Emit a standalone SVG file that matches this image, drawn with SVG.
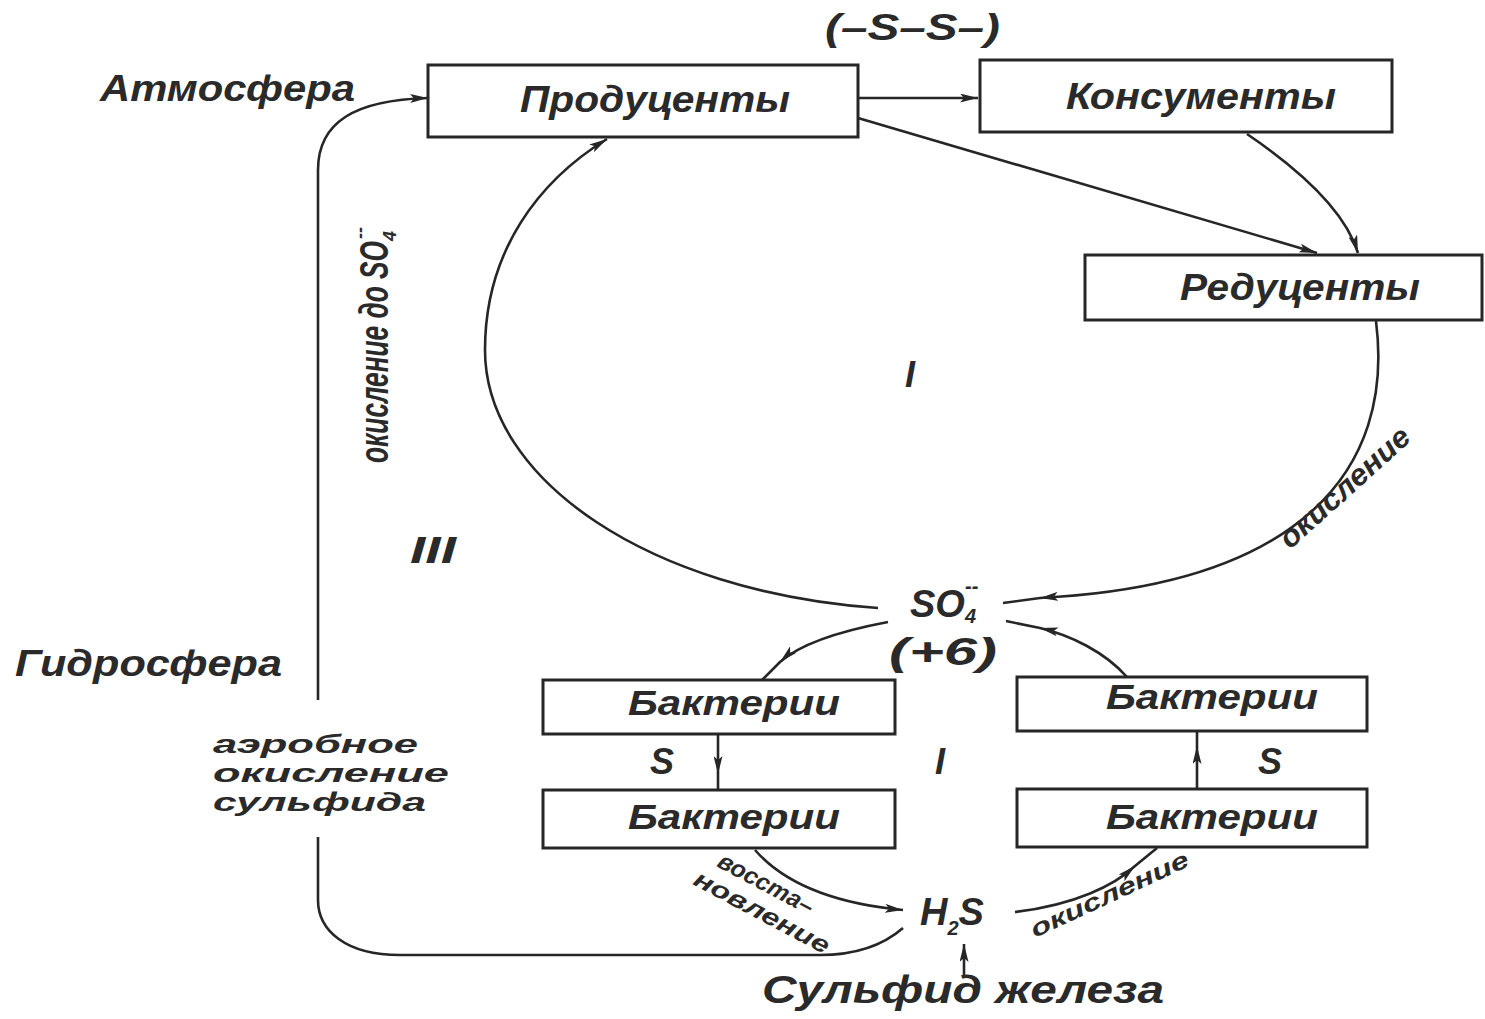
<svg xmlns="http://www.w3.org/2000/svg" width="1485" height="1019" viewBox="0 0 1485 1019">
<defs>
<marker id="ah" viewBox="0 0 18 9" refX="18" refY="4.5" markerWidth="18" markerHeight="9" markerUnits="userSpaceOnUse" orient="auto">
<path d="M0,0 L18,4.5 L0,9 L4,4.5 z" fill="#262626"/>
</marker>
<style>
.box{fill:#fff;stroke:#262626;stroke-width:3}
.t{font-family:"Liberation Sans","DejaVu Sans",sans-serif;font-style:italic;font-weight:bold;fill:#2a2a2a}
.c{fill:none;stroke:#262626;stroke-width:2.6}
.ae{marker-end:url(#ah)}
.am{marker-mid:url(#ah)}
</style>
</defs>
<rect width="1485" height="1019" fill="#fff"/>

<g id="connectors">
<path class="c ae" d="M858 98 L978 98"/>
<path class="c ae" d="M858 118 L1317 253"/>
<path class="c ae" d="M1247 134 C1300 170 1345 210 1358 253"/>
<path class="c am" d="M1376 321 C1395 470 1300 585 1040 598 L1003 603"/>
<path class="c ae" d="M878 608 C650 592 485 480 485 350 C485 250 540 180 607 139"/>
<path class="c am" d="M888 622 C835 632 798 646 780 662 L762 680"/>
<path class="c am" d="M1127 677 C1105 652 1070 635 1040 628 L1006 621"/>
<path class="c am" d="M718 735 L718 774 L718 789"/>
<path class="c am" d="M1197 788 L1197 746 L1197 731"/>
<path class="c ae" d="M755 850 C790 890 850 905 903 910"/>
<path class="c am" d="M1015 912 C1075 905 1115 885 1135 866 L1157 848"/>
<path class="c ae" d="M964 975 L964 944"/>
<path class="c" d="M903 928 C880 948 850 955 820 955 L400 955 C345 955 318 930 318 900 L318 837"/>
<path class="c ae" d="M318 700 L318 170 C318 122 355 100 428 98"/>
</g>

<g id="producers"><rect class="box" x="428" y="65" width="430" height="72"/><text class="t" x="520" y="112" font-size="37" textLength="270" lengthAdjust="spacingAndGlyphs">Продуценты</text></g>
<g id="consumers"><rect class="box" x="980" y="60" width="412" height="72"/><text class="t" x="1066" y="109" font-size="37" textLength="270" lengthAdjust="spacingAndGlyphs">Консументы</text></g>
<g id="reducers"><rect class="box" x="1085" y="255" width="397" height="65"/><text class="t" x="1180" y="300" font-size="37" textLength="240" lengthAdjust="spacingAndGlyphs">Редуценты</text></g>
<g id="bact-tl"><rect class="box" x="543" y="680" width="352" height="54"/><text class="t" x="628" y="715" font-size="35" textLength="212" lengthAdjust="spacingAndGlyphs">Бактерии</text></g>
<g id="bact-tr"><rect class="box" x="1017" y="677" width="350" height="54"/><text class="t" x="1106" y="709" font-size="35" textLength="212" lengthAdjust="spacingAndGlyphs">Бактерии</text></g>
<g id="bact-bl"><rect class="box" x="543" y="790" width="352" height="58"/><text class="t" x="628" y="829" font-size="35" textLength="212" lengthAdjust="spacingAndGlyphs">Бактерии</text></g>
<g id="bact-br"><rect class="box" x="1017" y="789" width="350" height="58"/><text class="t" x="1106" y="829" font-size="35" textLength="212" lengthAdjust="spacingAndGlyphs">Бактерии</text></g>

<g id="so4"><text class="t" x="910" y="617" font-size="38">SO<tspan font-size="20" dy="6">4</tspan><tspan font-size="20" dx="-11" dy="-30">--</tspan></text>
<text class="t" x="889" y="665" font-size="38" textLength="108" lengthAdjust="spacingAndGlyphs">(+6)</text></g>
<g id="h2s"><text class="t" x="920" y="925" font-size="38">H<tspan font-size="20" dy="10">2</tspan><tspan dy="-10">S</tspan></text></g>
<g id="sulfide"><text class="t" x="762" y="1003" font-size="38" textLength="402" lengthAdjust="spacingAndGlyphs">Сульфид железа</text></g>

<g id="labels">
<text class="t" x="825" y="40" font-size="36" textLength="175" lengthAdjust="spacingAndGlyphs">(–S–S–)</text>
<text class="t" x="100" y="101" font-size="36" textLength="255" lengthAdjust="spacingAndGlyphs">Атмосфера</text>
<text class="t" x="15" y="676" font-size="36" textLength="267" lengthAdjust="spacingAndGlyphs">Гидросфера</text>
<text class="t" x="213" y="753" font-size="25" textLength="205" lengthAdjust="spacingAndGlyphs">аэробное</text>
<text class="t" x="213" y="782" font-size="25" textLength="236" lengthAdjust="spacingAndGlyphs">окисление</text>
<text class="t" x="213" y="811" font-size="25" textLength="213" lengthAdjust="spacingAndGlyphs">сульфида</text>
<text class="t" transform="translate(388,463) rotate(-90)" font-size="40"><tspan textLength="222" lengthAdjust="spacingAndGlyphs">окисление до SO</tspan><tspan font-size="18" dy="8">4</tspan><tspan font-size="18" dx="-8" dy="-30">--</tspan></text>
<text class="t" x="905" y="387" font-size="36">I</text>
<text class="t" x="410" y="563" font-size="36" textLength="46" lengthAdjust="spacingAndGlyphs">III</text>
<text class="t" x="935" y="774" font-size="36">I</text>
<text class="t" x="650" y="774" font-size="36">S</text>
<text class="t" x="1258" y="774" font-size="36">S</text>
<text class="t" transform="translate(1290,550) rotate(-42)" font-size="30" textLength="165" lengthAdjust="spacingAndGlyphs">окисление</text>
<text class="t" transform="translate(716,866) rotate(28)" font-size="24" textLength="105" lengthAdjust="spacingAndGlyphs">восста–</text>
<text class="t" transform="translate(692,884) rotate(28)" font-size="24" textLength="150" lengthAdjust="spacingAndGlyphs">новление</text>
<text class="t" transform="translate(1035,938) rotate(-25)" font-size="24" textLength="172" lengthAdjust="spacingAndGlyphs">окисление</text>
</g>
</svg>
